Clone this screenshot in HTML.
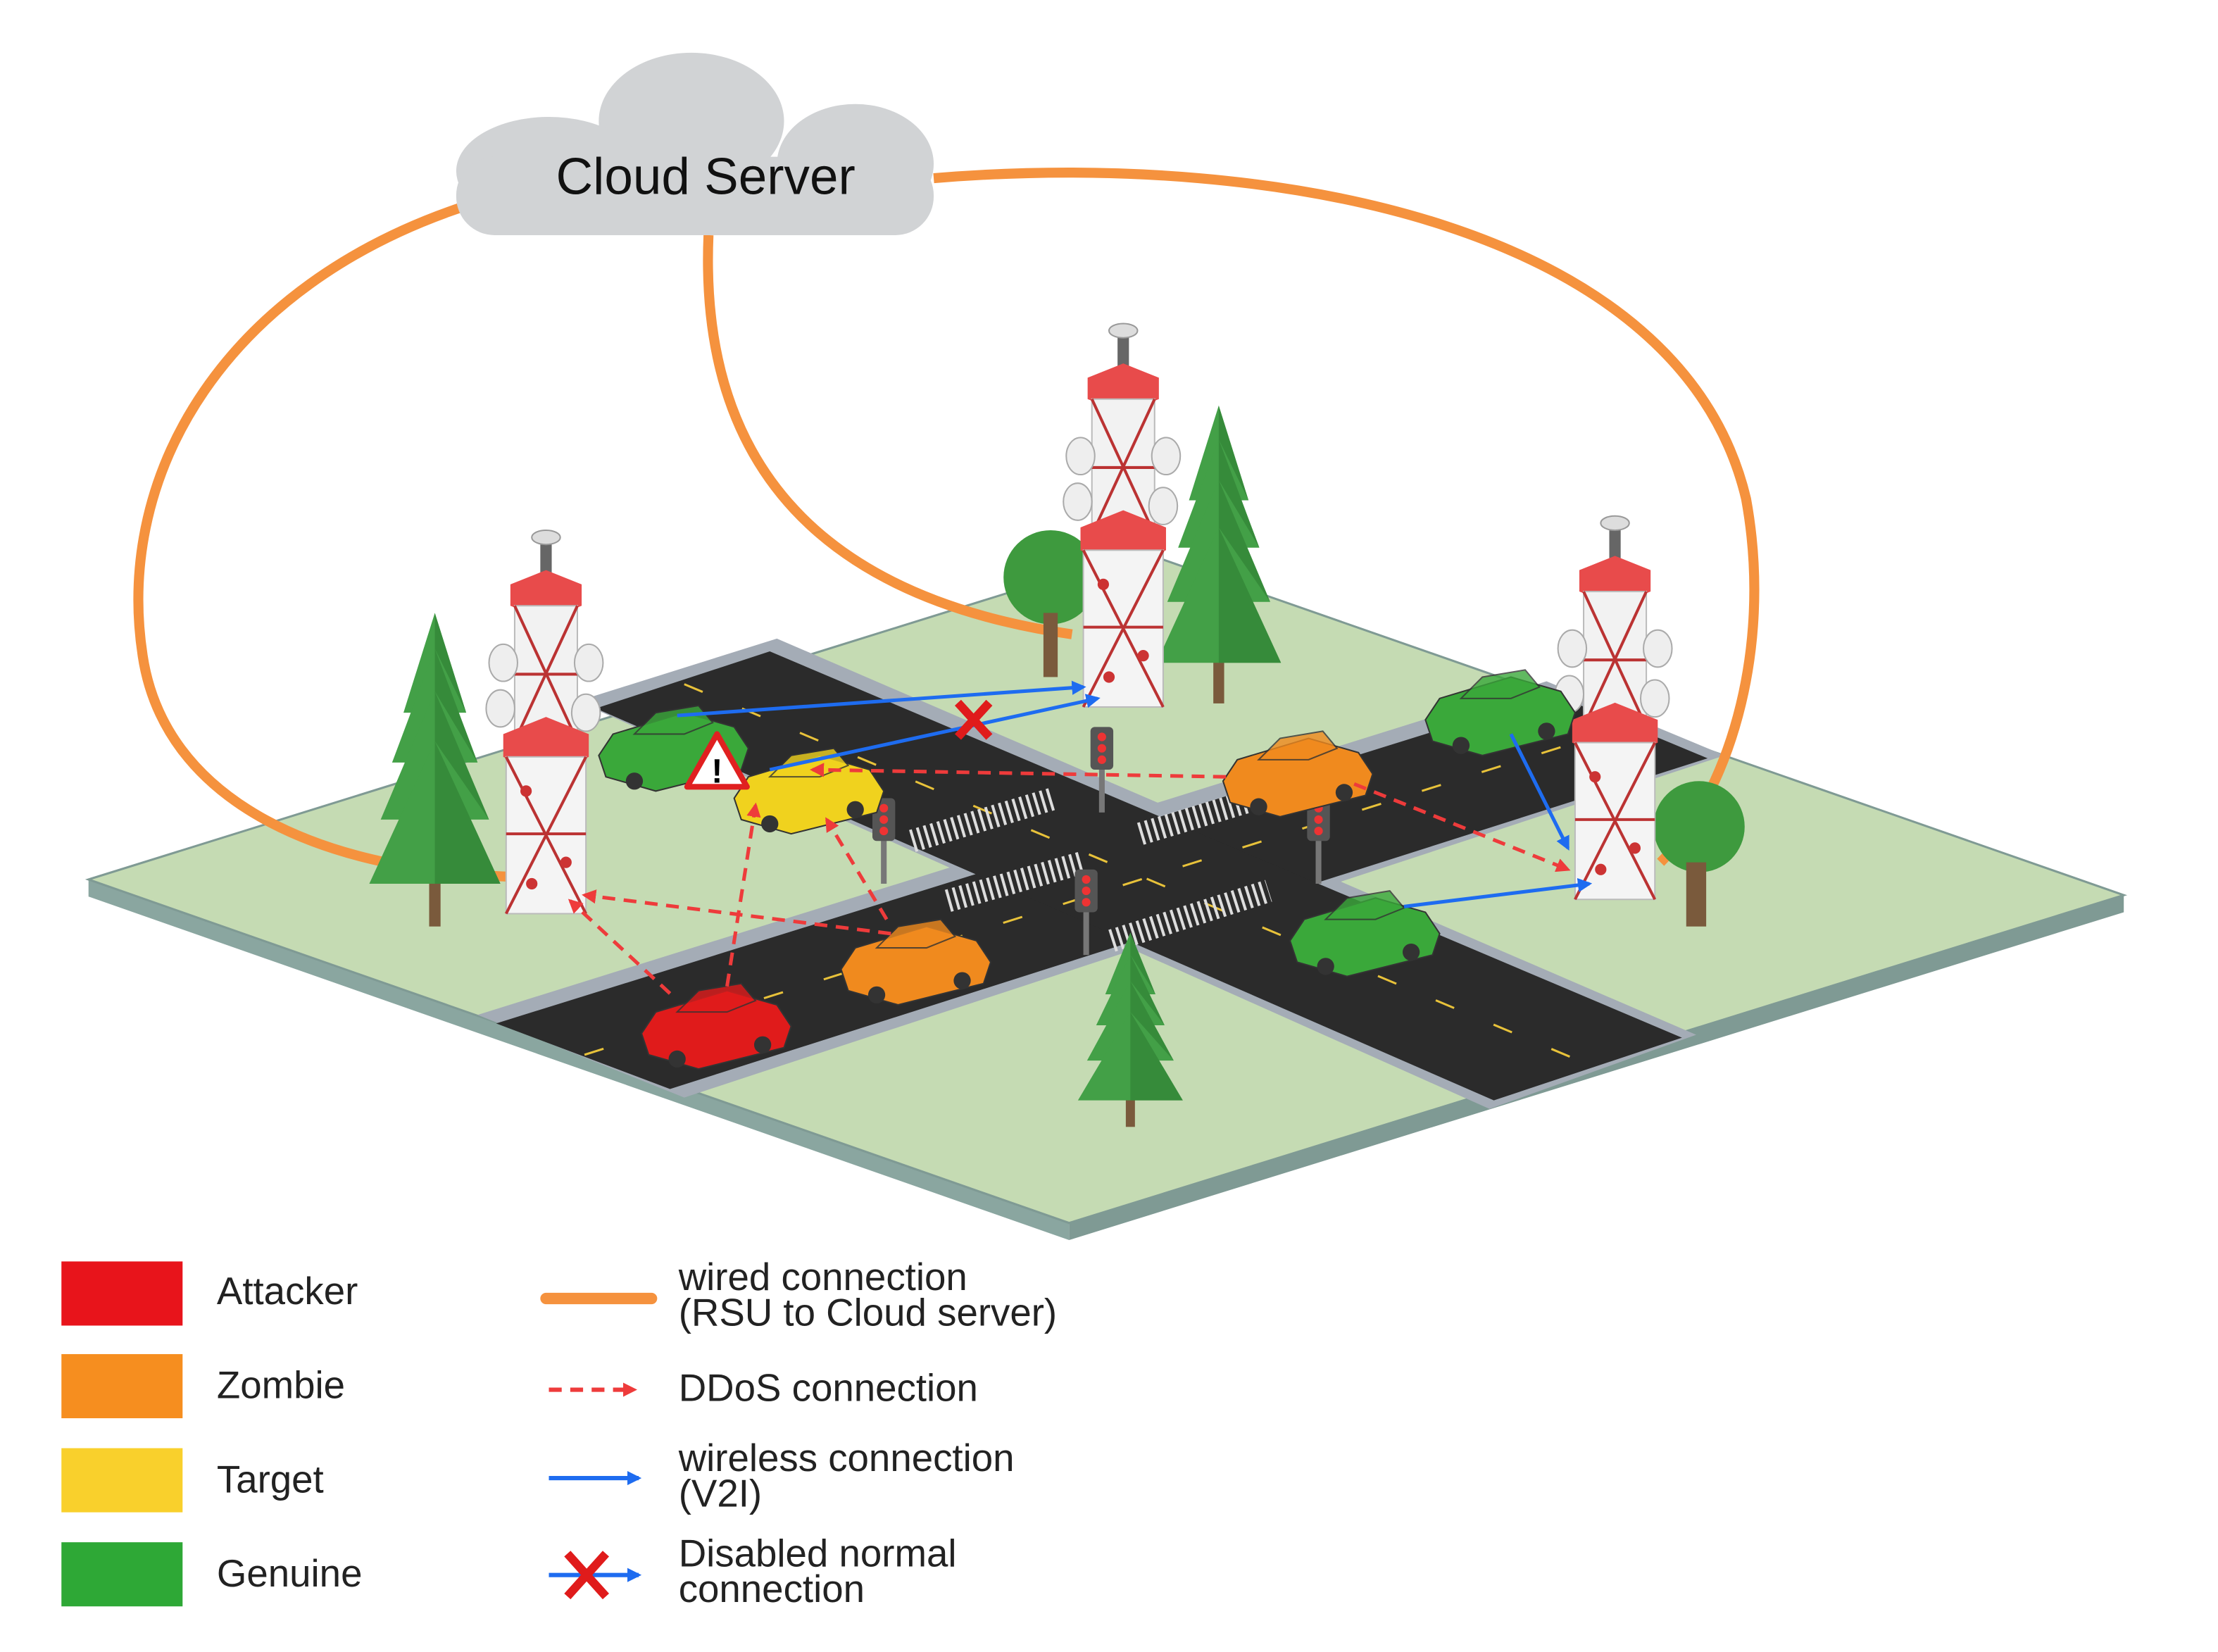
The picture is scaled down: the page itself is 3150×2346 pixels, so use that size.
<!DOCTYPE html>
<html><head><meta charset="utf-8"><style>
html,body{margin:0;padding:0;background:#fff;}
svg{display:block;}
text{font-family:"Liberation Sans",sans-serif;}
</style></head><body>
<svg width="3150" height="2346" viewBox="0 0 1556 1159" xmlns="http://www.w3.org/2000/svg">
<defs>
<marker id="ar" markerWidth="10" markerHeight="10" refX="8" refY="5" orient="auto" markerUnits="userSpaceOnUse"><path d="M0,0 L10,5 L0,10 Z" fill="#ee3b3b"/></marker>
<marker id="ab" markerWidth="10" markerHeight="10" refX="8" refY="5" orient="auto" markerUnits="userSpaceOnUse"><path d="M0,0 L10,5 L0,10 Z" fill="#1e6cf0"/></marker>
<g id="conifer">
<rect x="-4" y="-10" width="8" height="40" fill="#7a5a3c"/>
<polygon points="0,-190 -22,-120 22,-120" fill="#43a047"/>
<polygon points="0,-165 -30,-85 30,-85" fill="#43a047"/>
<polygon points="0,-135 -38,-45 38,-45" fill="#43a047"/>
<polygon points="0,-100 -46,0 46,0" fill="#43a047"/>
<polygon points="0,-190 0,0 46,0 0,-100 38,-45 0,-135 30,-85 0,-165 22,-120" fill="#2e7d32" opacity="0.6"/>
</g>
<g id="tower">
<rect x="-4" y="-145" width="8" height="30" fill="#666"/>
<ellipse cx="0" cy="-148" rx="10" ry="5" fill="#ddd" stroke="#999"/>
<polygon points="-25,-115 0,-125 25,-115 25,-100 0,-90 -25,-100" fill="#e84b4b"/>
<rect x="-22" y="-100" width="44" height="95" fill="#f2f2f2" stroke="#bbb"/>
<path d="M-22,-100 L22,-5 M22,-100 L-22,-5 M-22,-52 L22,-52" stroke="#b33" stroke-width="2"/>
<polygon points="-30,-10 0,-22 30,-10 30,6 0,18 -30,6" fill="#e84b4b"/>
<rect x="-28" y="6" width="56" height="110" fill="#f4f4f4" stroke="#bbb"/>
<path d="M-28,6 L28,116 M28,6 L-28,116 M-28,60 L28,60" stroke="#b33" stroke-width="2"/>
<circle cx="-14" cy="30" r="4" fill="#c33"/><circle cx="14" cy="80" r="4" fill="#c33"/><circle cx="-10" cy="95" r="4" fill="#c33"/>
<ellipse cx="-30" cy="-60" rx="10" ry="13" fill="#eee" stroke="#aaa"/>
<ellipse cx="30" cy="-60" rx="10" ry="13" fill="#eee" stroke="#aaa"/>
<ellipse cx="-32" cy="-28" rx="10" ry="13" fill="#eee" stroke="#aaa"/>
<ellipse cx="28" cy="-25" rx="10" ry="13" fill="#eee" stroke="#aaa"/>
</g>
<g id="car">
<polygon points="0,20 10,5 60,-10 95,0 105,15 100,30 40,45 5,35" fill="currentColor" stroke="#333" stroke-width="1"/>
<polygon points="25,5 40,-10 70,-15 80,-3 60,5" fill="currentColor" stroke="#333" stroke-width="1" opacity="0.8"/>
<circle cx="25" cy="38" r="6" fill="#333"/><circle cx="85" cy="28" r="6" fill="#333"/>
</g>
<g id="light">
<rect x="-2" y="0" width="4" height="40" fill="#777"/>
<rect x="-8" y="-20" width="16" height="30" rx="3" fill="#555"/>
<circle cx="0" cy="-13" r="3" fill="#e33"/><circle cx="0" cy="-5" r="3" fill="#e33"/><circle cx="0" cy="3" r="3" fill="#e33"/>
</g>
</defs>

<polygon points="62,617 750,858 750,870 62,629" fill="#8aa6a0"/>
<polygon points="750,858 1490,628 1490,640 750,870" fill="#7f9a94"/>
<polygon points="62,617 800,387 1490,628 750,858" fill="#c5dbb3" stroke="#7f9a94" stroke-width="1.5"/>
<polygon points="335,712 1085,478 1210,530 480,770" fill="#a4acb6"/>
<polygon points="405,492 545,448 1190,726 1045,778" fill="#a4acb6"/>
<polygon points="348,718 1090,487 1198,532 470,764" fill="#2b2b2b"/>
<polygon points="418,497 540,457 1180,728 1048,772" fill="#2b2b2b"/>
<path d="M410,740 L1140,510" stroke="#e8c23a" stroke-width="1.5" stroke-dasharray="14 30"/>
<path d="M480,480 L1110,745" stroke="#e8c23a" stroke-width="1.5" stroke-dasharray="14 30"/>
<path d="M640,590 L740,560 M665,632 L760,605 M800,585 L900,555 M780,660 L890,625" stroke="#ddd" stroke-width="16" stroke-dasharray="2 3"/>

<g fill="none" stroke="#f5923e" stroke-width="7">
<path d="M325,145 C160,200 80,330 100,460 C115,560 220,610 355,615"/>
<path d="M497,165 C490,330 580,420 752,445"/>
<path d="M655,125 C900,105 1180,160 1225,350 C1245,460 1210,560 1165,605"/>
</g>

<g fill="#d1d3d5">
<ellipse cx="485" cy="85" rx="65" ry="48"/>
<ellipse cx="385" cy="120" rx="65" ry="38"/>
<ellipse cx="600" cy="115" rx="55" ry="42"/>
<rect x="320" y="110" width="335" height="55" rx="27"/>
</g>
<text x="495" y="136" font-size="36" text-anchor="middle" fill="#111" font-family="'DejaVu Sans',sans-serif">Cloud Server</text>

<circle cx="737" cy="405" r="33" fill="#3e9a3e"/><rect x="732" y="430" width="10" height="45" fill="#7a5a3c"/>
<use href="#conifer" transform="translate(305,620)"/>
<use href="#conifer" transform="translate(855,465) scale(0.95)"/>
<use href="#conifer" transform="translate(793,772) scale(0.8,0.62)"/>
<circle cx="1192" cy="580" r="32" fill="#3e9a3e"/><rect x="1183" y="605" width="14" height="45" fill="#7a5a3c"/>

<use href="#tower" x="383" y="525"/>
<use href="#tower" x="788" y="380"/>
<use href="#tower" x="1133" y="515"/>

<use href="#light" x="773" y="530"/>
<use href="#light" x="620" y="580"/>
<use href="#light" x="925" y="580"/>
<use href="#light" x="762" y="630"/>

<use href="#car" x="420" y="510" color="#3aa83a"/>
<use href="#car" x="1000" y="485" color="#3aa83a"/>
<use href="#car" x="905" y="640" color="#3aa83a"/>
<use href="#car" x="515" y="540" color="#f0d21e"/>
<use href="#car" x="858" y="528" color="#f08a1e"/>
<use href="#car" x="590" y="660" color="#f08a1e"/>
<use href="#car" x="450" y="705" color="#e01b1b"/>

<polygon points="503,515 482,552 524,552" fill="#fff" stroke="#e02020" stroke-width="4" stroke-linejoin="round"/>
<text x="503" y="549" font-size="24" font-weight="bold" text-anchor="middle">!</text>

<g stroke="#1e6cf0" stroke-width="2.5" fill="none" marker-end="url(#ab)">
<path d="M475,502 L760,482"/>
<path d="M540,540 L770,490"/>
<path d="M1060,515 L1100,595"/>
<path d="M985,636 L1115,620"/>
</g>
<path d="M672,493 L694,517 M694,493 L672,517" stroke="#e01b1b" stroke-width="6"/>

<g stroke="#ee3b3b" stroke-width="2.5" fill="none" stroke-dasharray="9 6" marker-end="url(#ar)">
<path d="M510,692 L530,565"/>
<path d="M470,697 L400,632"/>
<path d="M625,655 L410,628"/>
<path d="M622,645 L580,575"/>
<path d="M860,545 L570,540"/>
<path d="M950,550 L1100,610"/>
</g>

<rect x="43" y="885" width="85" height="45" fill="#e8141b"/>
<rect x="43" y="950" width="85" height="45" fill="#f68e1f"/>
<rect x="43" y="1016" width="85" height="45" fill="#f9d02c"/>
<rect x="43" y="1082" width="85" height="45" fill="#2ea836"/>
<g font-size="27" fill="#222">
<text x="152" y="915">Attacker</text>
<text x="152" y="981">Zombie</text>
<text x="152" y="1047">Target</text>
<text x="152" y="1113">Genuine</text>
<text x="476" y="905">wired connection</text>
<text x="476" y="930">(RSU to Cloud server)</text>
<text x="476" y="983">DDoS connection</text>
<text x="476" y="1032">wireless connection</text>
<text x="476" y="1057">(V2I)</text>
<text x="476" y="1099">Disabled normal</text>
<text x="476" y="1124">connection</text>
</g>
<path d="M383,911 L457,911" stroke="#f5923e" stroke-width="8" stroke-linecap="round"/>
<path d="M385,975 L445,975" stroke="#ee3b3b" stroke-width="3" stroke-dasharray="9 6" marker-end="url(#ar)"/>
<path d="M385,1037 L448,1037" stroke="#1e6cf0" stroke-width="3" marker-end="url(#ab)"/>
<path d="M385,1105 L448,1105" stroke="#1e6cf0" stroke-width="3" marker-end="url(#ab)"/>
<path d="M398,1090 L425,1120 M425,1090 L398,1120" stroke="#e01b1b" stroke-width="6"/>
</svg>
</body></html>
